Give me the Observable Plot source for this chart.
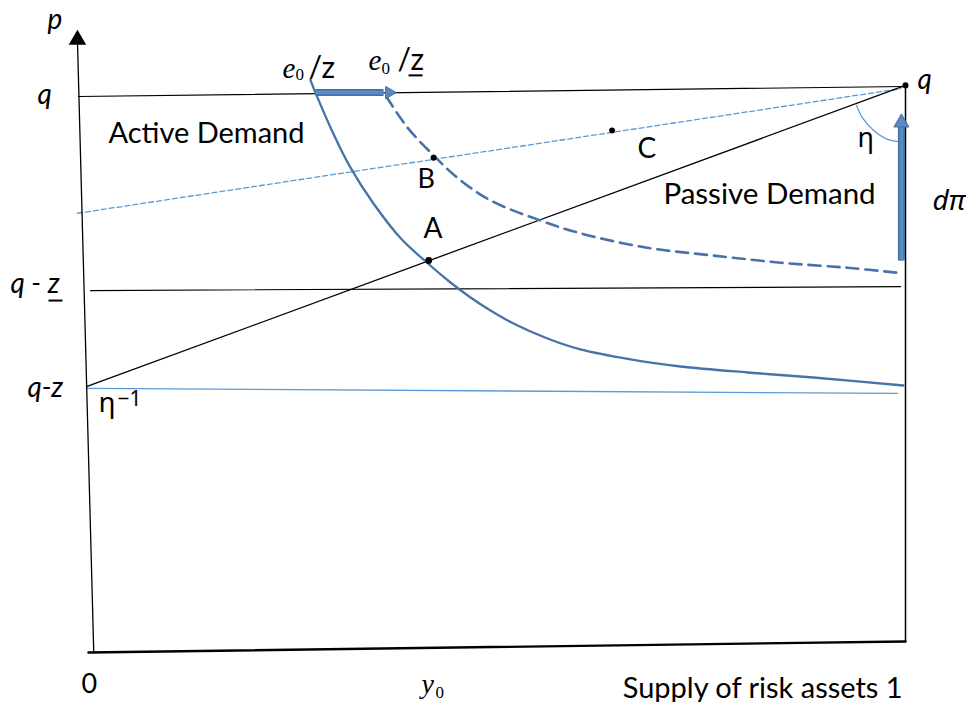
<!DOCTYPE html>
<html><head><meta charset="utf-8">
<script src="https://cdn.jsdelivr.net/npm/d3@7"></script>
<script src="https://cdn.jsdelivr.net/npm/@observablehq/plot@0.6"></script>
<style>body{margin:0;background:#fff}svg{overflow:visible}</style>
</head><body><div id="chart"></div>
<script>
// x: supply of risk assets (0..1), y: price p (0 at origin, q = 1)
const pAxis = [{x:0.004,y:0},{x:-0.016,y:1.10}];
const pAxisHead = [{x:-0.016,y:1.102}];
const supplyAxis = [{x:-0.0025,y:0},{x:1,y:0.0198}];
const rightEdge = [{x:1,y:0.0198},{x:1,y:1.02}];
const qLine = [{x:-0.0147,y:1.0},{x:1,y:1.018}];
const qzBarLine = [{x:0,y:0.651},{x:0.994,y:0.658}];
const qzLine = [{x:-0.005,y:0.475},{x:0.990,y:0.466}];
const passiveLine = [{x:-0.005,y:0.478},{x:1,y:1.02}];
const etaLine = [{x:-0.016,y:0.790},{x:0.994,y:1.014}];
const activeCurve = [
  {x:0.270,y:1.029},{x:0.276,y:1.007},{x:0.298,y:0.933},{x:0.319,y:0.872},
  {x:0.347,y:0.808},{x:0.380,y:0.746},{x:0.413,y:0.701},{x:0.4417,y:0.6655},
  {x:0.4663,y:0.6385},{x:0.4908,y:0.6151},{x:0.5190,y:0.5917},{x:0.5607,y:0.5647},
  {x:0.6012,y:0.5450},{x:0.6626,y:0.5270},{x:0.7239,y:0.5144},{x:0.8061,y:0.5036},
  {x:0.8871,y:0.4946},{x:0.9975,y:0.4802}
];
const shiftedCurve = [
  {x:0.363,y:1.000},{x:0.389,y:0.944},{x:0.421,y:0.894},{x:0.450,y:0.854},
  {x:0.491,y:0.813},{x:0.552,y:0.777},{x:0.601,y:0.754},{x:0.683,y:0.728},
  {x:0.764,y:0.714},{x:0.847,y:0.701},{x:0.929,y:0.692},{x:0.996,y:0.682}
];
const etaArc = [
  {x:0.940,y:0.984},{x:0.947,y:0.962},{x:0.961,y:0.939},{x:0.978,y:0.923},{x:0.991,y:0.919}
];
const points = [
  {name:"q",x:1.0,y:1.02,r:4.2},{name:"A",x:0.415,y:0.705,r:5.5},
  {name:"B",x:0.421,y:0.890,r:4.2},{name:"C",x:0.640,y:0.939,r:4}
];
const shiftArrow = [{x1:0.276,x2:0.3595,y:1.007}];
const shiftArrowHead = [{x:0.3665,y:1.007}];
const dPiArrow = [{x:0.995,y1:0.705,y2:0.946}];
const dPiArrowHead = [{x:0.995,y:0.953}];
const underlines = [{x1:-0.0515,x2:-0.0344,y:0.633},{x1:0.3902,x2:0.4074,y:1.038}];

const sansLabels = [
  {label:"Active Demand",x:0.022,y:0.917,size:29},
  {label:"Passive Demand",x:0.703,y:0.806,size:29.5},
  {label:"A",x:0.4086,y:0.745,size:28},
  {label:"B",x:0.4012,y:0.835,size:27},
  {label:"C",x:0.6712,y:0.890,size:28},
  {label:"0",x:-0.011,y:-0.072,size:27},
  {label:"Supply of risk assets 1",x:0.653,y:-0.081,size:29},
  {label:"/z",x:0.2675,y:1.034,size:30},
  {label:"/z",x:0.3767,y:1.047,size:30}
];
const italicLabels = [
  {label:"p",x:-0.0528,y:1.122,size:28},
  {label:"q",x:-0.065,y:0.986,size:28},
  {label:"q",x:1.0147,y:1.014,size:28},
  {label:"q - z",x:-0.0982,y:0.646,size:28},
  {label:"q-z",x:-0.0773,y:0.460,size:28}
];
const greekLabels = [
  {label:"η",x:0.9411,y:0.910,size:27},
  {label:"η",x:0.0098,y:0.432,size:28}
];
const superscriptLabels = [
  {label:"−1",x:0.0331,y:0.444,size:21}
];
const greekItalicLabels = [
  {label:"dπ",x:1.0331,y:0.795,size:28}
];
const serifItalicLabels = [
  {label:"e",x:0.2356,y:1.034,size:29},
  {label:"e",x:0.3411,y:1.047,size:29},
  {label:"y",x:0.4061,y:-0.072,size:28}
];
const subscriptLabels = [
  {label:"0",x:0.2515,y:1.029,size:17},
  {label:"0",x:0.3571,y:1.041,size:17},
  {label:"0",x:0.4233,y:-0.081,size:17}
];

const dark = "#4673a8", light = "#5b9bd5", arrowFill = "#5a8ac6", arrowEdge = "#41719c";
const xy = {x:"x", y:"y"};
const txt = (data, opts) => Plot.text(data, {x:"x", y:"y", text:"label", fontSize:"size", textAnchor:"start", lineAnchor:"bottom", fill:"black", ...opts});

const chart = Plot.plot({
  width: 966, height: 702,
  marginLeft: 90, marginRight: 61, marginTop: 96, marginBottom: 50,
  x: {domain:[0,1], axis:null},
  y: {domain:[0,1], axis:null},
  style: {background:"white", overflow:"visible"},
  marks: [
    Plot.line(qzLine, {...xy, stroke:light, strokeWidth:1.3}),
    Plot.line(etaLine, {...xy, stroke:light, strokeWidth:1.3, strokeDasharray:"5,3"}),
    Plot.line(pAxis, {...xy, stroke:"black", strokeWidth:1.3}),
    Plot.dot(pAxisHead, {...xy, symbol:"triangle", r:6.5, fill:"black"}),
    Plot.line(supplyAxis, {...xy, stroke:"black", strokeWidth:2.4}),
    Plot.line(rightEdge, {...xy, stroke:"black", strokeWidth:1.5}),
    Plot.line(qLine, {...xy, stroke:"black", strokeWidth:1.2}),
    Plot.line(qzBarLine, {...xy, stroke:"black", strokeWidth:1.2}),
    Plot.line(passiveLine, {...xy, stroke:"black", strokeWidth:1.3}),
    Plot.line(etaArc, {...xy, stroke:light, strokeWidth:1.3, curve:"catmull-rom"}),
    Plot.line(activeCurve, {...xy, stroke:dark, strokeWidth:2.3, curve:"catmull-rom"}),
    Plot.line(shiftedCurve, {...xy, stroke:dark, strokeWidth:2.6, strokeDasharray:"12,7", curve:"catmull-rom"}),
    Plot.link(shiftArrow, {x1:"x1", x2:"x2", y1:"y", y2:"y", stroke:arrowEdge, strokeWidth:7}),
    Plot.link(shiftArrow, {x1:"x1", x2:"x2", y1:"y", y2:"y", stroke:arrowFill, strokeWidth:4}),
    Plot.dot(shiftArrowHead, {...xy, symbol:"triangle", r:4.6, rotate:90, fill:arrowFill, stroke:arrowEdge, strokeWidth:1}),
    Plot.link(dPiArrow, {x1:"x", x2:"x", y1:"y1", y2:"y2", stroke:arrowEdge, strokeWidth:7}),
    Plot.link(dPiArrow, {x1:"x", x2:"x", y1:"y1", y2:"y2", stroke:arrowFill, strokeWidth:4}),
    Plot.dot(dPiArrowHead, {...xy, symbol:"triangle", r:5.6, fill:arrowFill, stroke:arrowEdge, strokeWidth:1}),
    Plot.dot(points, {...xy, r:"r", fill:"black"}),
    Plot.link(underlines, {x1:"x1", x2:"x2", y1:"y", y2:"y", stroke:"black", strokeWidth:2}),
    txt(sansLabels, {fontFamily:"Lato, 'Open Sans', sans-serif"}),
    txt(italicLabels, {fontFamily:"Lato, 'Open Sans', sans-serif", fontStyle:"italic"}),
    txt(greekLabels, {fontFamily:"'Noto Sans', 'DejaVu Sans', sans-serif"}),
    txt(superscriptLabels, {fontFamily:"'Noto Sans', 'DejaVu Sans', sans-serif"}),
    txt(greekItalicLabels, {fontFamily:"'Noto Sans', 'DejaVu Sans', sans-serif", fontStyle:"italic"}),
    txt(serifItalicLabels, {fontFamily:"'Liberation Serif', 'DejaVu Serif', serif", fontStyle:"italic"}),
    txt(subscriptLabels, {fontFamily:"'Liberation Serif', 'DejaVu Serif', serif"})
  ]
});
document.getElementById("chart").appendChild(chart);
</script>
</body></html>
